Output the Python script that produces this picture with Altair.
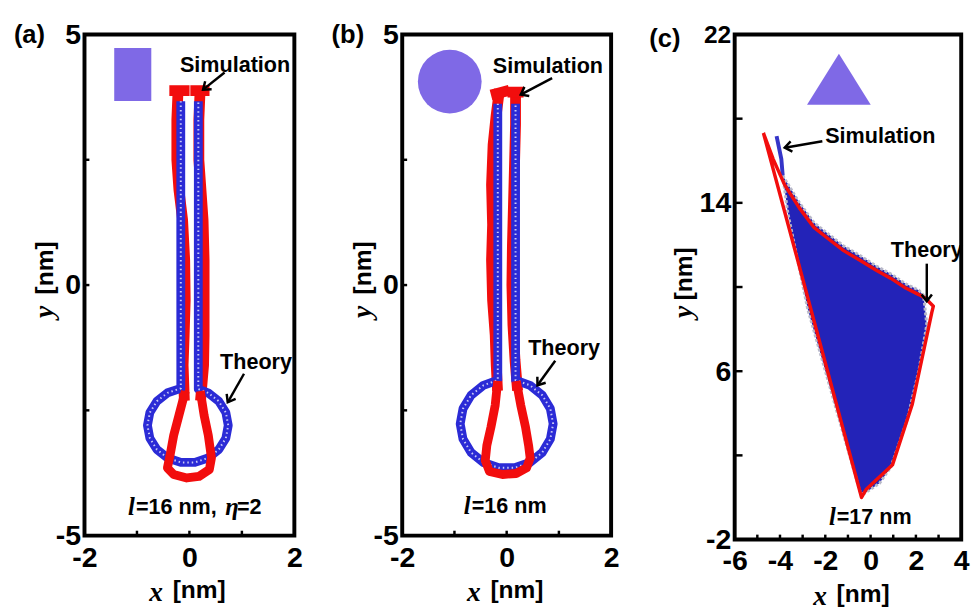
import altair as alt
import pandas as pd

RED = "#f20d0d"
BLUE = "#2b2bd6"
BLUE_C = "#2323b8"
PURPLE = "#7f69e6"
SANS = "Liberation Sans"
SERIF = "Liberation Serif"

# ---------------- Panel (a) data ----------------
a_theory_x = [-0.165, -0.164, -0.415, -0.620, -0.754, -0.80, -0.754, -0.620, -0.415, -0.164,
              0.104, 0.355, 0.560, 0.694, 0.74, 0.694, 0.560, 0.355, 0.169, 0.17]
a_theory_y = [3.67, -2.061, -2.150, -2.318, -2.544, -2.80, -3.056, -3.282, -3.450, -3.539,
              -3.539, -3.450, -3.282, -3.056, -2.80, -2.544, -2.318, -2.150, -2.076, 3.67]
a_simL_x = [-0.22, -0.24, -0.24, -0.2, -0.13, -0.09, -0.08, -0.1, -0.12, -0.1]
a_simL_y = [3.8, 3.3, 2.5, 1.9, 1.3, 0.5, -0.3, -1.0, -1.6, -2.2]
a_simR_x = [0.22, 0.27, 0.28, 0.28, 0.28, 0.26, 0.22, 0.18, 0.18, 0.2]
a_simR_y = [-2.2, -1.6, -1.0, -0.3, 0.5, 1.3, 1.9, 2.5, 3.3, 3.8]
a_capL_x = [-0.28, -0.1]
a_capL_y = [3.88, 3.88]
a_capR_x = [0.12, 0.28]
a_capR_y = [3.88, 3.88]
a_loop_x = [-0.1, -0.2, -0.3, -0.37, -0.42, -0.3, -0.05, 0.18, 0.38, 0.42, 0.36, 0.28, 0.22]
a_loop_y = [-2.2, -2.6, -3.0, -3.4, -3.65, -3.78, -3.85, -3.82, -3.68, -3.45, -3.0, -2.6, -2.2]

# ---------------- Panel (b) data ----------------
b_theory_x = [-0.17, -0.170, -0.445, -0.682, -0.836, -0.89, -0.836, -0.682, -0.445, -0.155,
              0.155, 0.445, 0.682, 0.836, 0.89, 0.836, 0.682, 0.445, 0.170, 0.17]
b_theory_y = [3.62, -1.896, -2.000, -2.198, -2.466, -2.77, -3.074, -3.342, -3.541, -3.646,
              -3.646, -3.541, -3.342, -3.074, -2.77, -2.466, -2.198, -2.000, -1.896, 3.62]
b_simL_x = [-0.15, -0.2, -0.26, -0.29, -0.27, -0.29, -0.27, -0.22, -0.2, -0.18]
b_simL_y = [3.8, 3.4, 2.8, 2.0, 1.2, 0.5, -0.3, -1.0, -1.6, -2.0]
b_simR_x = [0.2, 0.16, 0.12, 0.1, 0.11, 0.13, 0.15, 0.17, 0.17]
b_simR_y = [-2.0, -1.5, -0.8, 0.0, 0.8, 1.6, 2.4, 3.2, 3.8]
b_capL_x = [-0.2, -0.05]
b_capL_y = [3.82, 3.86]
b_capR_x = [0.12, 0.22]
b_capR_y = [3.85, 3.85]
b_loop_x = [-0.18, -0.22, -0.3, -0.38, -0.41, -0.33, -0.08, 0.18, 0.38, 0.45, 0.42, 0.36, 0.27, 0.2]
b_loop_y = [-2.0, -2.4, -2.83, -3.2, -3.5, -3.72, -3.78, -3.76, -3.65, -3.45, -3.2, -2.83, -2.4, -2.0]

# ---------------- Panel (c) data ----------------
c_theory_x = [-4.73, -4.30, -3.79, -3.14, -2.49, -1.84, -1.19, -0.47, 0.25, 0.90, 1.55, 2.13, 2.41,
              2.77, 2.70, 1.84, 0.97, -0.19, -0.40, -4.73]
c_theory_y = [17.32, 16.08, 14.84, 13.75, 12.82, 12.27, 11.73, 11.27, 10.80, 10.41, 9.95, 9.64, 9.48,
              9.09, 8.78, 4.43, 1.56, 0.39, 0.00, 17.32]
c_sim_x = [-3.88, -3.14, -2.49, -1.84, -1.19, -0.47, 0.25, 0.90, 1.55, 2.13, 2.34, 2.48, 2.13, 1.62,
           0.90, 0.39, -0.26, -0.47, -1.63, -2.78, -3.65, -3.88]
c_sim_y = [15.3, 14.0, 13.05, 12.5, 11.95, 11.5, 11.0, 10.62, 10.15, 9.85, 9.6, 8.21, 6.03, 3.70,
           1.45, 0.67, 0.20, 0.28, 4.62, 8.97, 13.5, 15.3]
c_fil_x = [-4.15, -3.94, -3.88]
c_fil_y = [17.17, 16.08, 15.3]

# ticks / labels
ab_xticks = [-2, -1, 0, 1, 2]
ab_xlabels = [-2, 0, 2]
ab_yticks = [-5, -2.5, 0, 2.5, 5]
ab_ylabels = [-5, 0, 5]
c_xticks = [-6, -5, -4, -3, -2, -1, 0, 1, 2, 3, 4]
c_xlabels = [-6, -4, -2, 0, 2, 4]
c_yticks = [-2, 2, 6, 10, 14, 18, 22]
c_ylabels = [-2, 6, 14, 22]

# annotations: text
a_notes = {"t": ["Simulation", "Theory"], "x": [0.87, 1.27], "y": [4.39, -1.54]}
b_notes = {"t": ["Simulation", "Theory"], "x": [0.79, 1.1], "y": [4.36, -1.25]}
c_notes = {"t": ["Simulation", "Theory"], "x": [0.43, 2.48], "y": [17.17, 11.73]}
# arrows (start -> end) and head angle in degrees
a_arrows = {"x": [0.67, 1.04], "y": [4.24, -1.77], "x2": [0.26, 0.73], "y2": [3.9, -2.34], "ang": [141, 120]}
b_arrows = {"x": [0.87, 0.93], "y": [4.13, -1.51], "x2": [0.27, 0.59], "y2": [3.8, -2.0], "ang": [152, 126]}
c_arrows = {"x": [-2.13, 2.48], "y": [16.93, 11.11], "x2": [-3.79, 2.48], "y2": [16.62, 9.32], "ang": [170, 90]}
# shape icons
a_icon = {"x": [-1.08], "y": [4.2]}
b_icon = {"x": [-1.09], "y": [4.06]}
c_icon = {"x": [-1.4], "y": [19.87]}
# parameter labels (start position)
a_param = {"x": [-1.17], "y": [-4.43]}
b_param = {"x": [-0.82], "y": [-4.41]}
c_param = {"x": [-1.84], "y": [-0.93]}


def path_df(*series):
    rows = []
    for k, (xs, ys) in enumerate(series):
        for i, (x, y) in enumerate(zip(xs, ys)):
            rows.append({"x": x, "y": y, "i": i, "seg": k})
    return pd.DataFrame(rows)


LABEL_EXPR = "datum.value < 0 ? '-' + abs(datum.value) : '' + datum.value"


def make_panel(W, H, xdom, ydom, xlab, ylab, xtk, ytk, ytick_len, letter, letter_pos,
               ytitle_x, ytitle_y, xtitle_pos, data_layers, notes, arrows, icon, icon_shape,
               icon_size, param, param_text, frame_pad, ylab_size=None):
    xs = alt.Scale(domain=xdom, nice=False, zero=False)
    ys = alt.Scale(domain=ydom, nice=False, zero=False)
    ylfs = 29 if ylab_size is None else ylab_size
    xaxis = alt.Axis(values=xlab, labelExpr=LABEL_EXPR, ticks=False, domain=False, grid=False,
                     labelFlush=False, labelOverlap=False, labelPadding=8, title=None,
                     labelFont=SANS, labelFontWeight="bold", labelFontSize=29, labelColor="black")
    yaxis = alt.Axis(values=ylab, labelExpr=LABEL_EXPR, ticks=False, domain=False, grid=False,
                     labelFlush=False, labelOverlap=False, labelPadding=4, title=None,
                     labelFont=SANS, labelFontWeight="bold", labelFontSize=ylfs, labelColor="black")

    def X(f="x"):
        return alt.X(f"{f}:Q", scale=xs, axis=xaxis, title=None)

    def Y(f="y"):
        return alt.Y(f"{f}:Q", scale=ys, axis=yaxis, title=None)

    layers = []
    for df, mk in data_layers:
        layers.append(alt.Chart(df).mark_line(**mk).encode(
            x=X(), y=Y(), order="i:Q", detail="seg:N"))

    # inner ticks
    layers.append(alt.Chart(pd.DataFrame({"x": xtk})).mark_rule(color="black", strokeWidth=2.5)
                  .encode(x=X(), y=alt.value(H), y2=alt.value(H - 5)))
    layers.append(alt.Chart(pd.DataFrame({"y": ytk})).mark_rule(color="black", strokeWidth=2.5)
                  .encode(y=Y(), x=alt.value(0), x2=alt.value(ytick_len)))

    # icon
    layers.append(alt.Chart(pd.DataFrame(icon)).mark_point(
        shape=icon_shape, filled=True, color=PURPLE, opacity=1, size=icon_size, strokeWidth=0)
        .encode(x=X(), y=Y()))

    # arrows
    adf = pd.DataFrame(arrows)
    layers.append(alt.Chart(adf).mark_rule(color="black", strokeWidth=2.5)
                  .encode(x=X(), y=Y(), x2="x2:Q", y2="y2:Q"))
    layers.append(alt.Chart(adf).mark_point(
        shape="M-1,-0.75L0,0L-1,0.75", filled=False, color="black", strokeWidth=2.5,
        size=196, opacity=1).encode(x=X("x2"), y=Y("y2"), angle=alt.Angle("ang:Q", scale=None)))

    # notes
    layers.append(alt.Chart(pd.DataFrame(notes)).mark_text(
        font=SANS, fontWeight="bold", fontSize=22, color="black", align="center", baseline="middle")
        .encode(x=X(), y=Y(), text="t:N"))

    # parameter label pieces
    pdf = pd.DataFrame(param)
    for txt, dx, serif in param_text:
        if serif:
            mk = dict(font=SERIF, fontStyle="italic", fontWeight="bold", fontSize=25)
        else:
            mk = dict(font=SANS, fontWeight="bold", fontSize=22)
        layers.append(alt.Chart(pdf).mark_text(align="left", baseline="middle", dx=dx,
                                               color="black", **mk)
                      .encode(x=X(), y=Y(), text=alt.value(txt)))

    one = pd.DataFrame({"t": [letter]})
    # invisible spacer fixing the layout box of this panel (left, right, top)
    L, R, T = frame_pad
    layers.append(alt.Chart(one).mark_rule(color="white", opacity=0, strokeWidth=1)
                  .encode(x=alt.value(-L), x2=alt.value(W + R), y=alt.value(-T), y2=alt.value(-T)))
    # panel letter
    layers.append(alt.Chart(one).mark_text(font=SANS, fontWeight="bold", fontSize=26, align="left",
                                           baseline="middle", color="black")
                  .encode(x=alt.value(letter_pos[0]), y=alt.value(letter_pos[1]), text="t:N"))
    # axis titles
    layers.append(alt.Chart(one).mark_text(font=SANS, fontWeight="bold", fontSize=25, angle=270,
                                           align="center", baseline="middle", color="black")
                  .encode(x=alt.value(ytitle_x), y=alt.value(ytitle_y[0]), text=alt.value("[nm]")))
    layers.append(alt.Chart(one).mark_text(font=SERIF, fontStyle="italic", fontWeight="bold",
                                           fontSize=28, angle=270, align="center",
                                           baseline="middle", color="black")
                  .encode(x=alt.value(ytitle_x), y=alt.value(ytitle_y[1]), text=alt.value("y")))
    layers.append(alt.Chart(one).mark_text(font=SERIF, fontStyle="italic", fontWeight="bold",
                                           fontSize=28, align="center", baseline="middle",
                                           color="black")
                  .encode(x=alt.value(xtitle_pos[0]), y=alt.value(xtitle_pos[2] + 3), text=alt.value("x")))
    layers.append(alt.Chart(one).mark_text(font=SANS, fontWeight="bold", fontSize=25,
                                           align="center", baseline="middle", color="black")
                  .encode(x=alt.value(xtitle_pos[1]), y=alt.value(xtitle_pos[2]), text=alt.value("[nm]")))

    return alt.layer(*layers).properties(width=W, height=H)


red_line = dict(color=RED, strokeWidth=11, strokeCap="square", strokeJoin="round")
red_loop = dict(color=RED, strokeWidth=9, strokeCap="square", strokeJoin="round")
blue_line = dict(color=BLUE, strokeWidth=9, strokeCap="butt", strokeJoin="round")
blue_tex = dict(color="white", strokeWidth=2, strokeDash=[1.5, 3], opacity=0.75)

param16eta = [("l", 0, True), ("=16 nm, ", 8, False), ("\u03b7", 99, True), ("=2", 111, False)]
param16 = [("l", 0, True), ("=16 nm", 8, False)]
param17 = [("l", 0, True), ("=17 nm", 8, False)]

sq_shape = "M-0.7,-1L0.7,-1L0.7,1L-0.7,1Z"
tri_shape = "M-1,0.8L1,0.8L0,-0.8Z"

pa = make_panel(
    214, 511, [-2, 2], [-5, 5], ab_xlabels, ab_ylabels, ab_xticks, ab_yticks, 5,
    "(a)", (-72, 1), -40, (238, 283), (73, 117, 567),
    [
        (path_df((a_simL_x, a_simL_y), (a_simR_x, a_simR_y), (a_capL_x, a_capL_y), (a_capR_x, a_capR_y)), red_line),
        (path_df((a_theory_x, a_theory_y)), blue_line),
        (path_df((a_theory_x, a_theory_y)), blue_tex),
        (path_df((a_loop_x, a_loop_y)), red_loop),
    ],
    a_notes, a_arrows, a_icon, sq_shape, 54 * 54, a_param, param16eta, (75.5, 10, 18.5))

pb = make_panel(
    213, 511, [-2, 2], [-5, 5], ab_xlabels, ab_ylabels, ab_xticks, ab_yticks, 5,
    "(b)", (-72, 1), -40, (238, 283), (73, 117, 567),
    [
        (path_df((b_simL_x, b_simL_y), (b_simR_x, b_simR_y), (b_capL_x, b_capL_y), (b_capR_x, b_capR_y)), red_line),
        (path_df((b_theory_x, b_theory_y)), blue_line),
        (path_df((b_theory_x, b_theory_y)), blue_tex),
        (path_df((b_loop_x, b_loop_y)), red_loop),
    ],
    b_notes, b_arrows, b_icon, "circle", 65 * 65, b_param, param16, (96, 12, 18.5))

pc = make_panel(
    231, 515, [-6, 4], [-2, 22], c_xlabels, c_ylabels, c_xticks, c_yticks, 8,
    "(c)", (-87, 4.5), -52, (244, 283), (87, 131, 571),
    [
        (path_df((c_sim_x, c_sim_y)), dict(fill=BLUE_C, stroke="#b9b9c9", strokeWidth=3,
                                           strokeDash=[3, 2], strokeJoin="round")),
        (path_df((c_fil_x, c_fil_y)), dict(color="#3535c8", strokeWidth=4)),
        (path_df((c_theory_x, c_theory_y)), dict(color=RED, strokeWidth=3.5, strokeJoin="round")),
    ],
    c_notes, c_arrows, c_icon, tri_shape, 65 * 65, c_param, param17, (110, 9, 14.5),
    ylab_size=alt.condition("datum.value == 22", alt.value(25), alt.value(29)))

chart = alt.hconcat(
    pa, pb, pc, spacing=0,
).properties(
    padding={"left": 0, "top": 0, "right": 0, "bottom": 0},
    background="white",
).configure_view(
    stroke="black", strokeWidth=4
)

chart.save("out.html", embed_options={"renderer": "svg", "actions": False})
